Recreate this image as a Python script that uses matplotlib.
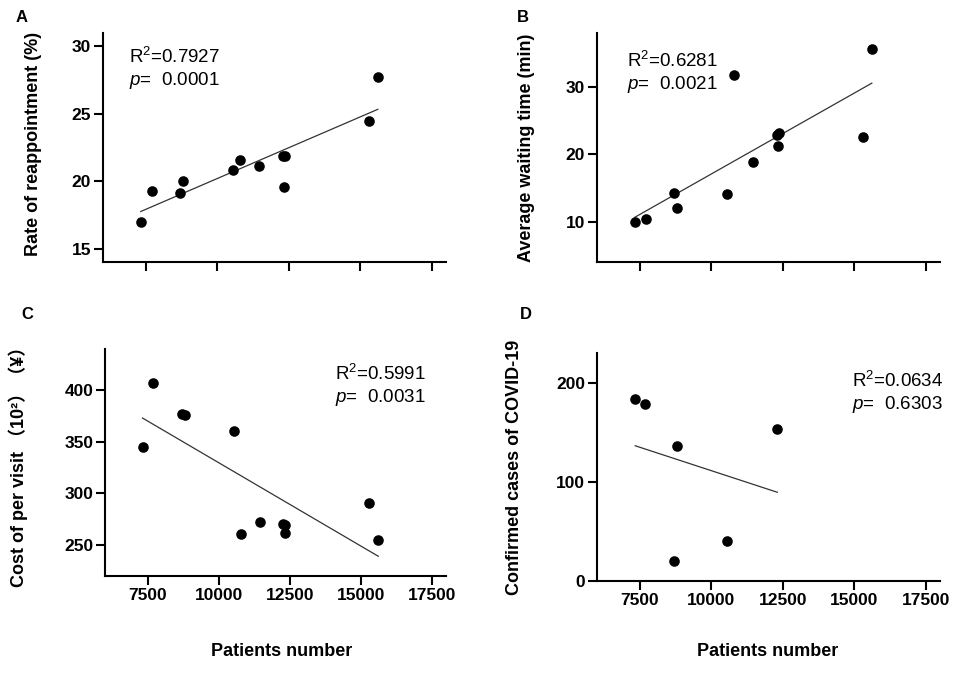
import numpy as np
import matplotlib
matplotlib.use("Agg")
import matplotlib.pyplot as plt

plt.rcParams["font.family"] = ["Liberation Sans", "Noto Sans CJK SC", "DejaVu Sans"]
plt.rcParams["mathtext.fontset"] = "custom"
plt.rcParams["mathtext.rm"] = "Liberation Sans"
plt.rcParams["mathtext.it"] = "Liberation Sans:italic"
plt.rcParams["mathtext.bf"] = "Liberation Sans:bold"

# patients number per month (shared x)
patients = [7320, 7700, 8700, 8800, 10550, 10780, 11470, 12280, 12350, 12330, 15290, 15615]

reappointment = [17.0, 19.3, 19.1, 20.0, 20.8, 21.6, 21.1, 21.9, 21.85, 19.6, 24.5, 27.7]
waiting_time = [9.9, 10.4, 14.2, 12.0, 14.1, 31.8, 18.9, 22.8, 23.1, 21.2, 22.5, 35.6]
cost_per_visit = [344.7, 407.4, 376.6, 376.0, 361.0, 260.5, 272.7, 270.0, 269.0, 262.0, 290.3, 254.8]

patients_d = [7337, 7674, 8789, 8685, 10531, 12308]
covid_cases = [183.6, 178.9, 136.0, 20.1, 40.2, 153.1]

x_ticks = [7500, 10000, 12500, 15000, 17500]

panels = [
    dict(letter="A", x=patients, y=reappointment, ylabel="Rate of reappointment (%)",
         ylim=(14, 31), yticks=[15, 20, 25, 30], r2="0.7927", p="0.0001",
         pos=[103, 33, 446, 262], text_xy=(129, 47), label_xy=(42, 144), xlab_x=None),
    dict(letter="B", x=patients, y=waiting_time, ylabel="Average waiting time (min)",
         ylim=(4, 38), yticks=[10, 20, 30], r2="0.6281", p="0.0021",
         pos=[597, 33, 940, 262], text_xy=(627, 51), label_xy=(535, 148), xlab_x=None),
    dict(letter="C", x=patients, y=cost_per_visit, ylabel="Cost of per visit （10²）（¥）",
         ylim=(220, 440), yticks=[250, 300, 350, 400], r2="0.5991", p="0.0031",
         pos=[105, 349, 446, 576], text_xy=(335, 364), label_xy=(28, 462), xlab_x=282),
    dict(letter="D", x=patients_d, y=covid_cases, ylabel="Confirmed cases of COVID-19",
         ylim=(0, 230), yticks=[0, 100, 200], r2="0.0634", p="0.6303",
         pos=[597, 353, 940, 581], text_xy=(852, 371), label_xy=(523, 467), xlab_x=768),
]

W, H = 957, 673
fig = plt.figure(figsize=(W / 100, H / 100), dpi=100)

letter_pos = {"A": (16, 10), "B": (517, 10), "C": (21, 307), "D": (520, 307)}

for pn in panels:
    l, t, r, b = pn["pos"]
    ax = fig.add_axes([l / W, 1 - b / H, (r - l) / W, (b - t) / H])
    x = np.array(pn["x"], dtype=float)
    y = np.array(pn["y"], dtype=float)
    ax.scatter(x, y, s=58, color="black", zorder=3, linewidths=0)
    k, c = np.polyfit(x, y, 1)
    xs = np.array([x.min(), x.max()])
    ax.plot(xs, k * xs + c, color="#333333", lw=0.9, zorder=2)

    ax.set_xlim(6000, 18000)
    ax.set_ylim(*pn["ylim"])
    ax.set_xticks(x_ticks)
    ax.set_yticks(pn["yticks"])
    for s in ["top", "right"]:
        ax.spines[s].set_visible(False)
    for s in ["left", "bottom"]:
        ax.spines[s].set_linewidth(1.5)
    ax.tick_params(width=1.5, length=6.5, pad=2, labelsize=12.5)
    for lab in ax.get_xticklabels() + ax.get_yticklabels():
        lab.set_fontweight("bold")
    if pn["xlab_x"] is None:
        ax.set_xticklabels([])
    else:
        ax.set_xlabel("Patients number", fontsize=13, fontweight="bold")
        ax.xaxis.set_label_coords((pn["xlab_x"] - l) / (r - l), -(643 - b) / (b - t))

    ax.set_ylabel(pn["ylabel"], fontsize=13, fontweight="bold")
    lx, ly = pn["label_xy"]
    ax.yaxis.set_label_coords((lx - l) / (r - l), (b - ly) / (b - t))

    tx, ty = pn["text_xy"]
    fig.text(tx / W, 1 - ty / H, "R$^2$=" + pn["r2"], fontsize=13.5, ha="left", va="top")
    fig.text(tx / W, 1 - (ty + 23) / H, "$\\it{p}$=  " + pn["p"], fontsize=13.5,
             ha="left", va="top")

    lxp, lyp = letter_pos[pn["letter"]]
    fig.text(lxp / W, 1 - lyp / H, pn["letter"], fontsize=12, fontweight="bold",
             ha="left", va="top")

fig.savefig("out.png", dpi=100)
